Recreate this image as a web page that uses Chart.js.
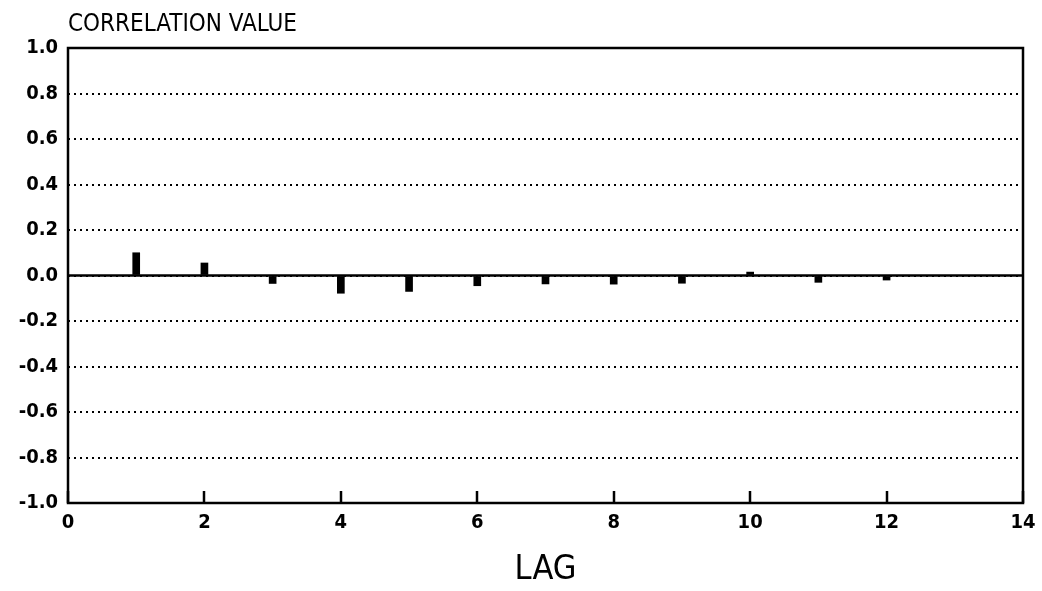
<!DOCTYPE html>
<html><head><meta charset="utf-8">
<script src="https://cdn.jsdelivr.net/npm/chart.js@4"></script>
<style>html,body{margin:0;padding:0;background:#fff}#wrap{width:1042px;height:591px}</style>
</head><body><div id="wrap"><canvas id="c" width="1042" height="591"></canvas></div>
<script>
const lags = [1, 2, 3, 4, 5, 6, 7, 8, 9, 10, 11, 12];
const correlations = [0.10, 0.055, -0.035, -0.078, -0.07, -0.045, -0.037, -0.038, -0.034, 0.015, -0.03, -0.02];
const xTicks = [0, 2, 4, 6, 8, 10, 12, 14];
const yTicks = [1.0, 0.8, 0.6, 0.4, 0.2, 0.0, -0.2, -0.4, -0.6, -0.8, -1.0];
const yTitle = 'CORRELATION VALUE';
const xTitle = 'LAG';

const FONT = '"DejaVu Sans Condensed", "DejaVu Sans", sans-serif';

const framePlugin = {
  id: 'frame',
  afterDraw(chart) {
    const ctx = chart.ctx;
    const a = chart.chartArea;
    const xs = chart.scales.x;
    ctx.save();
    ctx.strokeStyle = '#000';
    ctx.lineWidth = 2.5;
    ctx.strokeRect(a.left, a.top, a.right - a.left, a.bottom - a.top);
    for (const v of xTicks) {
      const x = Math.round(xs.getPixelForValue(v));
      ctx.beginPath();
      ctx.moveTo(x, a.bottom);
      ctx.lineTo(x, a.bottom - 12);
      ctx.stroke();
    }
    ctx.fillStyle = '#000';
    ctx.font = '24px ' + FONT;
    ctx.textBaseline = 'alphabetic';
    ctx.textAlign = 'left';
    ctx.fillText(yTitle, a.left, 31);
    ctx.restore();
  }
};

new Chart(document.getElementById('c'), {
  data: {
    datasets: [
      {
        type: 'line',
        data: [{x: xTicks[0], y: 0}, {x: xTicks[xTicks.length - 1], y: 0}],
        borderColor: '#000', borderWidth: 2.5, pointRadius: 0, order: 2
      },
      {
        type: 'bar',
        data: lags.map((l, i) => ({x: l, y: correlations[i]})),
        backgroundColor: '#000', borderWidth: 0, barThickness: 7, order: 1
      }
    ]
  },
  options: {
    responsive: false,
    animation: false,
    devicePixelRatio: 1,
    layout: {padding: {left: 0, right: 19, top: 48, bottom: 0}},
    plugins: {legend: {display: false}, tooltip: {enabled: false}},
    scales: {
      x: {
        type: 'linear', min: 0, max: 14, offset: false,
        afterBuildTicks(s) { s.ticks = xTicks.map(v => ({value: v})); },
        afterFit(s) { s.height = 88; s.paddingRight = 0; s.paddingLeft = 0; },
        grid: {display: false, drawTicks: false, offset: false},
        border: {display: false},
        ticks: {color: '#000', font: {family: FONT, size: 20, weight: 'bold'}, padding: 8, maxRotation: 0,
          callback: v => String(v)},
        title: {display: true, text: xTitle, color: '#000', font: {family: FONT, size: 34}, padding: {top: 8, bottom: 0}}
      },
      y: {
        min: -1, max: 1,
        afterBuildTicks(s) { s.ticks = yTicks.map(v => ({value: v})); },
        afterFit(s) { s.width = 68; },
        grid: {color: '#000', lineWidth: 2, drawTicks: false},
        border: {display: false, dash: [2, 4]},
        ticks: {color: '#000', font: {family: FONT, size: 20, weight: 'bold'}, padding: 10,
          callback: v => v.toFixed(1)}
      }
    }
  },
  plugins: [framePlugin]
});
</script></body></html>
